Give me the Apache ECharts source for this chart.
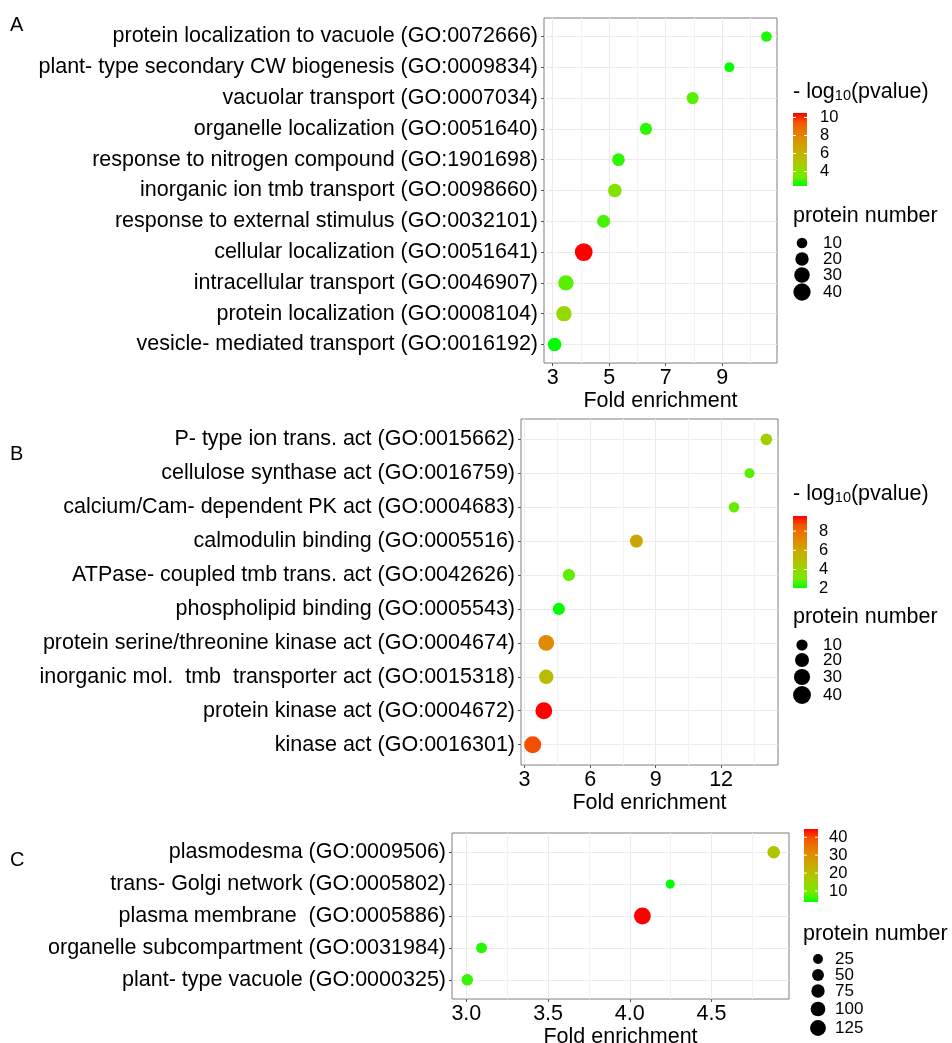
<!DOCTYPE html>
<html lang="en">
<head>
<meta charset="UTF-8">
<title>GO enrichment bubble plots</title>
<script src="https://cdn.jsdelivr.net/npm/echarts@6/dist/echarts.min.js"></script>
<style>
  html, body { margin: 0; padding: 0; background: #fff; }
  #main { width: 952px; height: 1043px; }
</style>
</head>
<body>
<div id="main"></div>
<script>
// ---- panel A : biological process (top row first) ----
var termsA = [
  'protein localization to vacuole (GO:0072666)',
  'plant- type secondary CW biogenesis (GO:0009834)',
  'vacuolar transport (GO:0007034)',
  'organelle localization (GO:0051640)',
  'response to nitrogen compound (GO:1901698)',
  'inorganic ion tmb transport (GO:0098660)',
  'response to external stimulus (GO:0032101)',
  'cellular localization (GO:0051641)',
  'intracellular transport (GO:0046907)',
  'protein localization (GO:0008104)',
  'vesicle- mediated transport (GO:0016192)'
];
var foldA  = [10.56, 9.25, 7.95, 6.30, 5.33, 5.20, 4.80, 4.10, 3.47, 3.40, 3.07];
var logpA  = [2.65, 2.45, 3.2, 2.8, 2.8, 3.85, 3.05, 10.49, 3.2, 4.35, 2.41];
var countA = [10, 8, 15, 15, 17, 21, 18, 43, 29, 29, 21];

// ---- panel B : molecular function ----
var termsB = [
  'P- type ion trans. act (GO:0015662)',
  'cellulose synthase act (GO:0016759)',
  'calcium/Cam- dependent PK act (GO:0004683)',
  'calmodulin binding (GO:0005516)',
  'ATPase- coupled tmb trans. act (GO:0042626)',
  'phospholipid binding (GO:0005543)',
  'protein serine/threonine kinase act (GO:0004674)',
  'inorganic mol.  tmb  transporter act (GO:0015318)',
  'protein kinase act (GO:0004672)',
  'kinase act (GO:0016301)'
];
var foldB  = [14.07, 13.30, 12.59, 8.12, 5.03, 4.57, 3.99, 3.99, 3.88, 3.37];
var logpB  = [4.25, 2.8, 2.9, 6.05, 2.85, 2.07, 7.0, 5.1, 9.58, 8.7];
var countB = [11, 7, 8, 16, 13, 13, 28, 22, 34, 35];

// ---- panel C : cellular component ----
var termsC = [
  'plasmodesma (GO:0009506)',
  'trans- Golgi network (GO:0005802)',
  'plasma membrane  (GO:0005886)',
  'organelle subcompartment (GO:0031984)',
  'plant- type vacuole (GO:0000325)'
];
var foldC  = [4.88, 4.247, 4.077, 3.093, 3.006];
var logpC  = [18.5, 3.85, 44.6, 5.5, 6.3];
var countC = [60, 18, 148, 36, 45];

// axis ticks and legend breaks
var majorA = [3, 5, 7, 9],          minorA = [4, 6, 8, 10];
var majorB = [3, 6, 9, 12],         minorB = [4.5, 7.5, 10.5, 13.5];
var majorC = [3.0, 3.5, 4.0, 4.5],  minorC = [3.25, 3.75, 4.25, 4.75];
var colorBreaksA = [4, 6, 8, 10];
var colorBreaksB = [2, 4, 6, 8];
var colorBreaksC = [10, 20, 30, 40];
var sizeBreaksA = [10, 20, 30, 40];
var sizeBreaksB = [10, 20, 30, 40];
var sizeBreaksC = [25, 50, 75, 100, 125];

// green -> red, sampled in Lab like ggplot does
var ramp = ['#00FF00', '#70EB00', '#98D700', '#B3C100', '#C8AB00', '#DA9200', '#E87600', '#F45300', '#FF0000'];
var FONT = '"Liberation Sans", Arial, Helvetica, sans-serif';
var FS = 21.5;

function sizeA(n) { return 2.1 * Math.sqrt(n) + 4; }
function sizeB(n) { return 2.1 * Math.sqrt(n) + 4.6; }
function sizeC(n) { return 0.97 * Math.sqrt(n) + 5; }

function minOf(a) { return Math.min.apply(null, a); }
function maxOf(a) { return Math.max.apply(null, a); }
function padRange(a) {
  var lo = minOf(a), hi = maxOf(a), p = (hi - lo) * 0.05;
  return [lo - p, hi + p];
}

var myChart = echarts.init(document.getElementById('main'));

var grids = [
  { left: 544, top: 18, width: 233, height: 345 },
  { left: 521, top: 419, width: 257, height: 346 },
  { left: 452, top: 833, width: 337, height: 166 }
];

function xAxes(gridIndex, folds, major, minor, digits) {
  var r = padRange(folds);
  return [{
    type: 'value', gridIndex: gridIndex, min: r[0], max: r[1],
    name: 'Fold enrichment', nameLocation: 'middle', nameGap: 24,
    nameTextStyle: { fontFamily: FONT, fontSize: FS, color: '#000' },
    axisLine: { show: false },
    axisTick: { show: true, length: 3, lineStyle: { color: '#555' }, customValues: major },
    axisLabel: {
      customValues: major, margin: 4, fontFamily: FONT, fontSize: FS, color: '#000',
      formatter: function (v) { return v.toFixed(digits); }
    },
    splitLine: { show: true, lineStyle: { color: '#EBEBEB', width: 1 } }
  }, {
    type: 'value', gridIndex: gridIndex, min: r[0], max: r[1],
    axisLine: { show: false },
    axisTick: { show: false, customValues: minor },
    axisLabel: { show: false, customValues: minor },
    splitLine: { show: true, lineStyle: { color: '#F2F2F2', width: 1 } }
  }];
}

function yAxis(gridIndex, terms) {
  var n = terms.length, vals = [];
  for (var i = 1; i <= n; i++) vals.push(i);
  return {
    type: 'value', gridIndex: gridIndex, min: 0.4, max: n + 0.6,
    axisLine: { show: false },
    axisTick: { show: true, length: 3, lineStyle: { color: '#555' }, customValues: vals },
    axisLabel: {
      customValues: vals, margin: 6, fontFamily: FONT, fontSize: FS, color: '#000',
      formatter: function (v) { return terms[n - Math.round(v)]; }
    },
    splitLine: { show: true, lineStyle: { color: '#EBEBEB', width: 1 } }
  };
}

function points(terms, folds, logp, counts) {
  var n = terms.length;
  return terms.map(function (t, i) { return [folds[i], n - i, logp[i], counts[i], t]; });
}

function scatter(idx, data, sizeFn) {
  return {
    type: 'scatter', xAxisIndex: idx * 2, yAxisIndex: idx,
    data: data,
    symbolSize: function (d) { return sizeFn(d[3]); },
    itemStyle: { opacity: 1 },
    emphasis: { disabled: true }
  };
}

// colour bar legend drawn with graphic elements
function colorBar(x, top, h, lo, hi, breaks, labelX) {
  var els = [];
  var stops = ramp.map(function (c, i) { return { offset: i / (ramp.length - 1), color: c }; });
  els.push({
    type: 'rect', shape: { x: x, y: top, width: 14, height: h },
    style: { fill: new echarts.graphic.LinearGradient(0, 1, 0, 0, stops) }
  });
  breaks.forEach(function (b) {
    var y = top + h - (b - lo) / (hi - lo) * h;
    els.push({ type: 'line', shape: { x1: x, y1: y, x2: x + 3, y2: y }, style: { stroke: '#fff', lineWidth: 1 } });
    els.push({ type: 'line', shape: { x1: x + 11, y1: y, x2: x + 14, y2: y }, style: { stroke: '#fff', lineWidth: 1 } });
    els.push({
      type: 'text', x: labelX, y: y,
      style: { text: String(b), fontFamily: FONT, fontSize: 16.5, fill: '#000', verticalAlign: 'middle', align: 'left' }
    });
  });
  return els;
}

function sizeLegend(titleX, titleY, cx, ys, breaks, sizeFn, labelX) {
  var els = [{
    type: 'text', x: titleX, y: titleY,
    style: { text: 'protein number', fontFamily: FONT, fontSize: FS, fill: '#000', verticalAlign: 'middle' }
  }];
  breaks.forEach(function (b, i) {
    els.push({ type: 'circle', shape: { cx: cx, cy: ys[i], r: sizeFn(b) / 2 }, style: { fill: '#000' } });
    els.push({
      type: 'text', x: labelX, y: ys[i],
      style: { text: String(b), fontFamily: FONT, fontSize: 17, fill: '#000', verticalAlign: 'middle' }
    });
  });
  return els;
}

function pvalTitle(x, y) {
  return {
    type: 'text', x: x, y: y,
    style: {
      text: '{t|- log}{s|10}{t|(pvalue)}', verticalAlign: 'middle',
      rich: {
        t: { fontFamily: FONT, fontSize: FS, fill: '#000' },
        s: { fontFamily: FONT, fontSize: 14.5, fill: '#000', verticalAlign: 'bottom' }
      }
    }
  };
}

function letter(t, y) {
  return { type: 'text', x: 10, y: y, style: { text: t, fontFamily: FONT, fontSize: 20, fill: '#000', verticalAlign: 'middle' } };
}

var graphics = [letter('A', 25), letter('B', 454), letter('C', 860)]
  .concat([pvalTitle(793, 92)])
  .concat(colorBar(793, 113, 73, minOf(logpA), maxOf(logpA), colorBreaksA, 820))
  .concat(sizeLegend(793, 216, 802, [243, 259, 275, 292], sizeBreaksA, sizeA, 823))
  .concat([pvalTitle(793, 494)])
  .concat(colorBar(793, 516, 72, minOf(logpB), maxOf(logpB), colorBreaksB, 819))
  .concat(sizeLegend(793, 617, 802, [645, 660, 677, 695], sizeBreaksB, sizeB, 823))
  .concat(colorBar(804, 829, 73, minOf(logpC), maxOf(logpC), colorBreaksC, 829))
  .concat(sizeLegend(803, 934, 818, [959, 975, 991, 1009, 1028], sizeBreaksC, sizeC, 835));

var option = {
  animation: false,
  backgroundColor: '#fff',
  grid: grids.map(function (g) {
    return { left: g.left, top: g.top, width: g.width, height: g.height, show: true,
      borderColor: '#7f7f7f', borderWidth: 1, backgroundColor: '#fff', outerBoundsMode: 'none' };
  }),
  xAxis: []
    .concat(xAxes(0, foldA, majorA, minorA, 0))
    .concat(xAxes(1, foldB, majorB, minorB, 0))
    .concat(xAxes(2, foldC, majorC, minorC, 1)),
  yAxis: [yAxis(0, termsA), yAxis(1, termsB), yAxis(2, termsC)],
  visualMap: [
    { type: 'continuous', show: false, seriesIndex: 0, dimension: 2, min: minOf(logpA), max: maxOf(logpA), inRange: { color: ramp } },
    { type: 'continuous', show: false, seriesIndex: 1, dimension: 2, min: minOf(logpB), max: maxOf(logpB), inRange: { color: ramp } },
    { type: 'continuous', show: false, seriesIndex: 2, dimension: 2, min: minOf(logpC), max: maxOf(logpC), inRange: { color: ramp } }
  ],
  series: [
    scatter(0, points(termsA, foldA, logpA, countA), sizeA),
    scatter(1, points(termsB, foldB, logpB, countB), sizeB),
    scatter(2, points(termsC, foldC, logpC, countC), sizeC)
  ],
  graphic: graphics
};

myChart.setOption(option);
</script>
</body>
</html>
